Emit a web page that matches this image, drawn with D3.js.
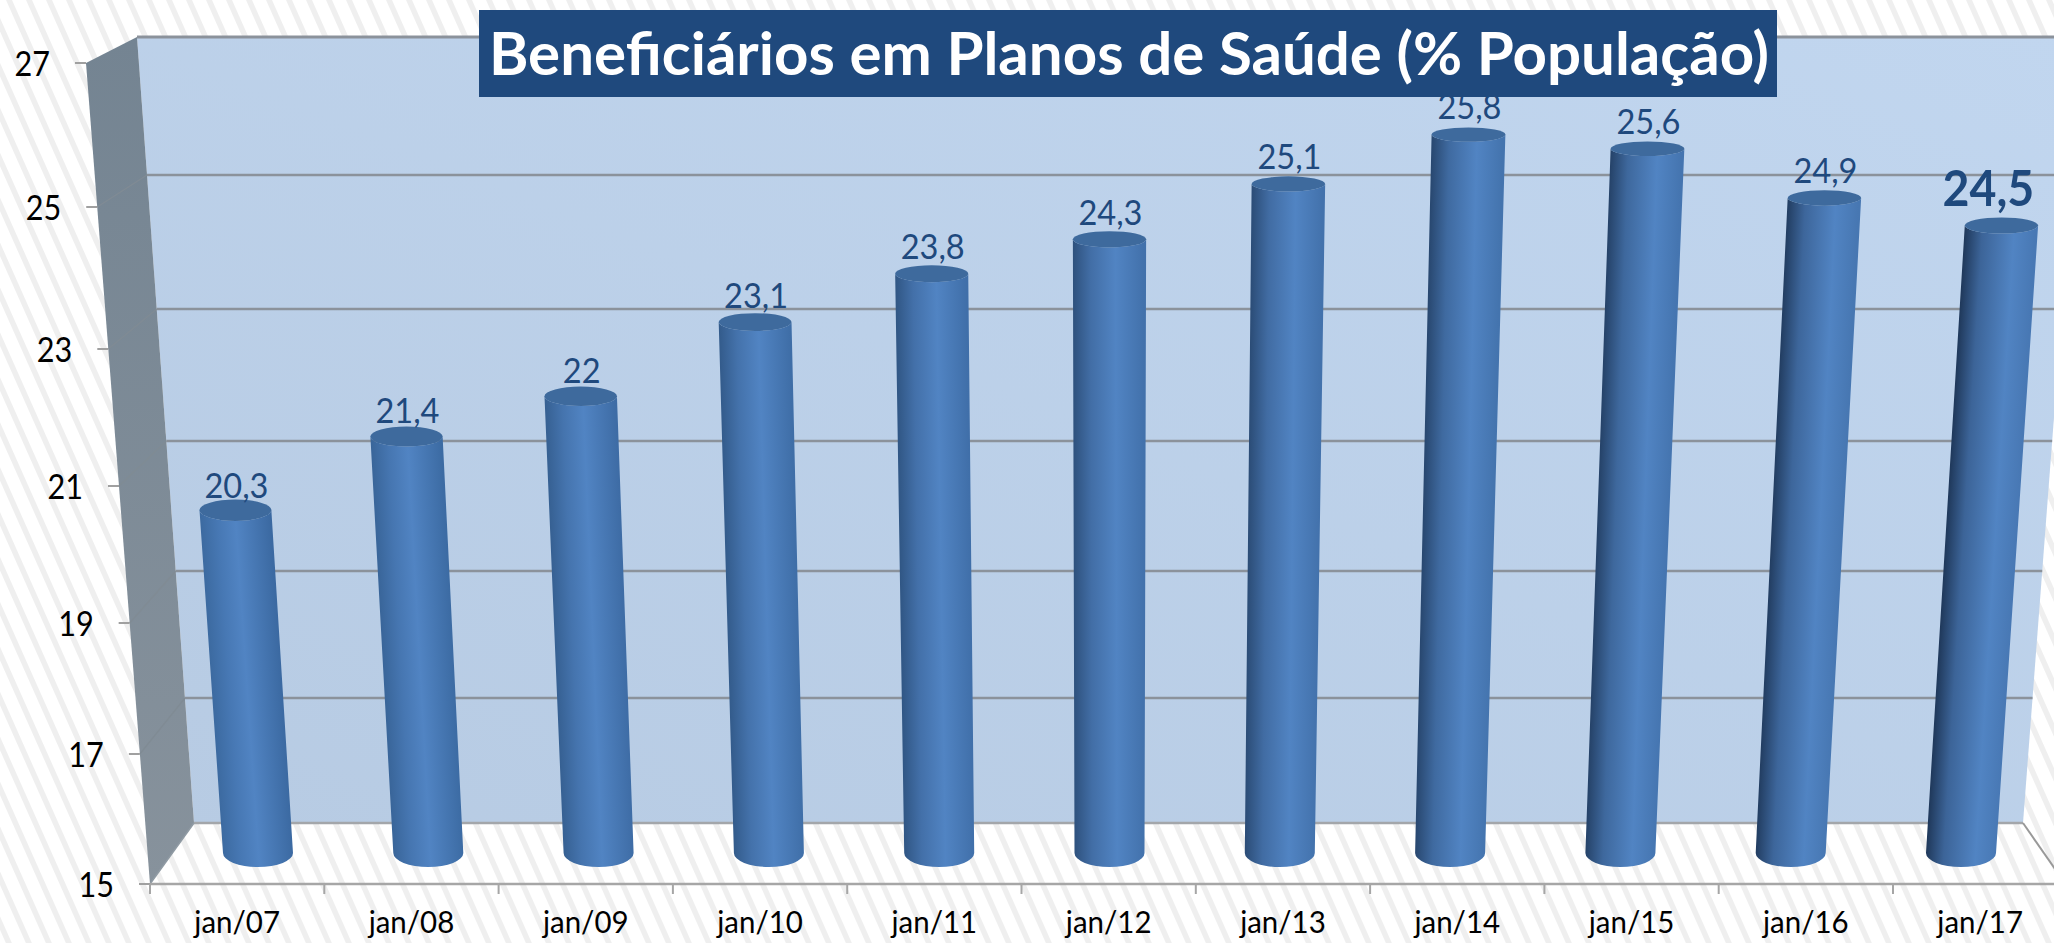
<!DOCTYPE html>
<html lang="pt">
<head>
<meta charset="utf-8">
<title>Beneficiários em Planos de Saúde</title>
<script src="https://cdn.jsdelivr.net/npm/d3@7"></script>
<style>
html,body{margin:0;padding:0;background:#fff;overflow:hidden}
svg{display:block}
text{font-family:Lato,"Open Sans",sans-serif}
</style>
</head>
<body>
<script>
const categories = ["jan/07","jan/08","jan/09","jan/10","jan/11","jan/12","jan/13","jan/14","jan/15","jan/16","jan/17"];
const values = [20.3,21.4,22,23.1,23.8,24.3,25.1,25.8,25.6,24.9,24.5];
const valueLabels = ["20,3","21,4","22","23,1","23,8","24,3","25,1","25,8","25,6","24,9","24,5"];
const highlighted = ["jan/17"];
const yTicks = [15,17,19,21,23,25,27];
const titleText = "Beneficiários em Planos de Saúde (% População)";

const W = 2054, H = 943;
const svg = d3.select("body").append("svg").attr("width",W).attr("height",H).attr("viewBox",[0,0,W,H]);
const defs = svg.append("defs");

// narrows glyphs a little: the reference's type is taller and tighter than Lato
function squeeze(sel, k){
  sel.each(function(){
    const len = this.getComputedTextLength();
    d3.select(this).attr("textLength",len*k).attr("lengthAdjust","spacingAndGlyphs");
  });
}

// perspective scales: the value axis is foreshortened towards the top
const yFront = d3.scaleLinear().domain(yTicks).range([884,754,623,486,349,207,63]);
const yBack  = d3.scaleLinear().domain(yTicks).range([823,698,571,441,309,175,37]);
const yMid   = d3.scaleLinear().domain(yTicks).range([853,726,597,463.5,329,191,50]);
const frontEdge = d3.scaleLinear().domain([63,884]).range([86,150]);
const backEdge  = d3.scaleLinear().domain([37,823]).range([137,194]);
const rightEdge = d3.scaleLinear().domain([37,823]).range([2083,2023]);
const axisBand = d3.scaleBand().domain(categories).range([150,150+174.3*11]);
const baseBand = d3.scaleBand().domain(categories).range([258-85.15,258-85.15+170.3*11]);
const persp = d3.scaleLinear().domain([15,27]).range([1,1.06]);
const ryScale = d3.scaleLinear().domain([226,853]).range([8,14]);
const vanishX = baseBand("jan/12")+baseBand.bandwidth()/2;
const barWidth = 70;

// background hatch
const pat = defs.append("pattern").attr("id","hatch").attr("patternUnits","userSpaceOnUse")
  .attr("width",20).attr("height",40).attr("patternTransform","skewX(24)");
pat.append("rect").attr("width",20).attr("height",40).attr("fill","#fff");
pat.append("rect").attr("x",6).attr("width",6).attr("height",40).attr("fill","#efefef");
svg.append("rect").attr("width",W).attr("height",H).attr("fill","url(#hatch)");

// back wall
const wallG = defs.append("linearGradient").attr("id","wall").attr("x1",0).attr("y1",1).attr("x2",1).attr("y2",0);
wallG.append("stop").attr("offset",0).attr("stop-color","#b7cbe3");
wallG.append("stop").attr("offset",1).attr("stop-color","#c1d6ef");
const line = d3.line();
svg.append("path").attr("fill","url(#wall)")
  .attr("d",line([[backEdge(37),37],[rightEdge(37),37],[rightEdge(823),823],[backEdge(823),823]])+"Z");

// side wall
const sideG = defs.append("linearGradient").attr("id","side").attr("x1",0).attr("y1",0).attr("x2",0).attr("y2",1);
sideG.append("stop").attr("offset",0).attr("stop-color","#748492");
sideG.append("stop").attr("offset",1).attr("stop-color","#87929c");
svg.append("path").attr("fill","url(#side)")
  .attr("d",line([[frontEdge(63),63],[backEdge(37),37],[backEdge(823),823],[frontEdge(884),884]])+"Z");

// gridlines
const inner = yTicks.filter(t=>t>15);
svg.append("g").selectAll("line.side").data(inner.filter(t=>t<27)).join("line")
  .attr("x1",t=>frontEdge(yFront(t))).attr("y1",t=>yFront(t))
  .attr("x2",t=>backEdge(yBack(t))).attr("y2",t=>yBack(t))
  .attr("stroke","#808b94").attr("stroke-width",1.2);
svg.append("g").selectAll("line").data(yTicks).join("line")
  .attr("x1",t=>backEdge(yBack(t))).attr("y1",t=>yBack(t))
  .attr("x2",t=>rightEdge(yBack(t))).attr("y2",t=>yBack(t))
  .attr("stroke",t=>t===15?"#a3a6aa":"#8b929b").attr("stroke-width",t=>t===27?3:2.5);

// floor edges
svg.append("path").attr("fill","none").attr("stroke","#999").attr("stroke-width",2)
  .attr("d",line([[rightEdge(823),823],[rightEdge(823)+44,886]]));
svg.append("path").attr("fill","none").attr("stroke","#8f9aa3").attr("stroke-width",1.5)
  .attr("d",line([[backEdge(823),823],[frontEdge(884),884]]));

// value axis
const leftTicks = svg.append("g").selectAll("g").data(yTicks).join("g");
leftTicks.append("line")
  .attr("x1",t=>frontEdge(yFront(t))-11).attr("x2",t=>frontEdge(yFront(t)))
  .attr("y1",t=>yFront(t)).attr("y2",t=>yFront(t))
  .attr("stroke","#a0a0a0").attr("stroke-width",2);
leftTicks.append("text")
  .attr("x",t=>frontEdge(yFront(t))-36).attr("y",t=>yFront(t)+12.5)
  .attr("text-anchor","end").attr("font-size",34).attr("fill","#000").text(t=>t)
  .call(squeeze,0.9);

// category axis
const xAxis = svg.append("g").attr("transform","translate(0,884)")
  .call(d3.axisBottom(axisBand).tickSize(0).tickPadding(27));
xAxis.select(".domain").remove();
xAxis.selectAll("text").attr("font-size",31).attr("fill","#000").style("font-family","Lato").call(squeeze,0.95);
svg.append("line").attr("x1",150).attr("x2",W).attr("y1",884).attr("y2",884).attr("stroke","#a6a6a6").attr("stroke-width",2.5);
svg.append("g").selectAll("line").data(d3.range(0,12)).join("line")
  .attr("x1",i=>axisBand.range()[0]+axisBand.step()*i).attr("x2",i=>axisBand.range()[0]+axisBand.step()*i)
  .attr("y1",884).attr("y2",894).attr("stroke","#a6a6a6").attr("stroke-width",2);

// cylinders
const rows = categories.map((c,i)=>{
  const v = values[i];
  const cxB = baseBand(c)+baseBand.bandwidth()/2;
  const f = persp(v);
  const cxT = vanishX+(cxB-vanishX)*f;
  const yT = yMid(v), yB = yMid(15);
  const wT = barWidth*f, wB = barWidth;
  return {c,i,v,label:valueLabels[i],cxB,cxT,yT,yB,wT,wB,ryT:ryScale(yT),ryB:14,hi:highlighted.includes(c)};
});
const dark = d3.scaleLinear().domain([0,10]).range(["#3c6aa0","#1f385a"]);
const edge = d3.scaleLinear().domain([0,10]).range(["#3b69a1","#4878b4"]);
rows.forEach(d=>{
  const xl = d.cxB-d.wB/2;
  const sk = ((d.cxT-d.wT/2)-xl)/(d.yT-d.yB);
  const g = defs.append("linearGradient").attr("id","bar"+d.i)
    .attr("gradientUnits","userSpaceOnUse").attr("x1",0).attr("x2",1).attr("y1",0).attr("y2",0)
    .attr("gradientTransform",`matrix(${d.wB+1},0,${sk},1,${xl},${d.yB})`);
  const t = d.i/10;
  g.append("stop").attr("offset",0).attr("stop-color",dark(d.i));
  g.append("stop").attr("offset",0.25).attr("stop-color",d3.interpolateRgb(dark(d.i),"#4f82c1")(0.6));
  g.append("stop").attr("offset",0.5+0.2*t).attr("stop-color","#5184c3");
  g.append("stop").attr("offset",1).attr("stop-color",edge(d.i));
});
const bars = svg.append("g").selectAll("g").data(rows).join("g");
bars.append("path").attr("fill",d=>`url(#bar${d.i})`)
  .attr("d",d=>`M${d.cxT-d.wT/2},${d.yT} L${d.cxB-d.wB/2},${d.yB}`+
    ` A${d.wB/2},${d.ryB} 0 0 0 ${d.cxB+d.wB/2},${d.yB}`+
    ` L${d.cxT+d.wT/2},${d.yT} A${d.wT/2},${d.ryT} 0 0 1 ${d.cxT-d.wT/2},${d.yT}Z`);
bars.append("ellipse").attr("cx",d=>d.cxT).attr("cy",d=>d.yT)
  .attr("rx",d=>d.wT/2).attr("ry",d=>d.ryT).attr("fill","#3e6a9d");

// value labels
svg.append("g").selectAll("text").data(rows).join("text")
  .attr("x",d=>d.cxT+(d.hi?-13:1))
  .attr("y",d=>d.yT-d.ryT-(d.hi?12:2+(d.v-20.3)*1.1))
  .attr("text-anchor","middle")
  .attr("font-size",d=>d.hi?50:35)
  .attr("font-weight",d=>d.hi?700:400)
  .attr("fill","#1f497d")
  .text(d=>d.label)
  .call(squeeze,0.93);

// title
svg.append("rect").attr("x",479).attr("y",10).attr("width",1298).attr("height",87).attr("fill","#1f497d");
svg.append("text").attr("x",489).attr("y",75).attr("font-size",59).attr("font-weight",700)
  .attr("fill","#fff").attr("textLength",1280).attr("lengthAdjust","spacingAndGlyphs").text(titleText);
</script>
</body>
</html>
